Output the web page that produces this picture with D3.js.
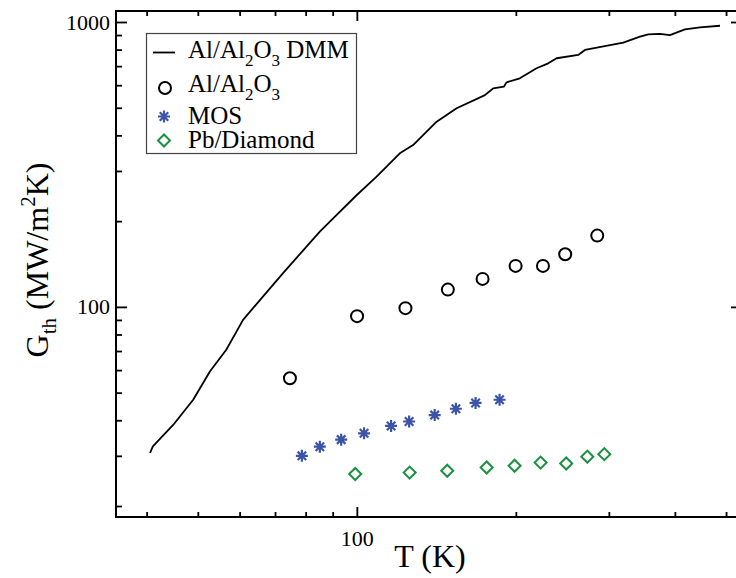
<!DOCTYPE html>
<html><head><meta charset="utf-8">
<script src="https://cdn.jsdelivr.net/npm/d3@7"></script>
<style>
body{margin:0;background:#fff;overflow:hidden;}
svg{display:block;font-family:"Liberation Serif","Times New Roman",serif;}
</style>
</head><body>
<svg id="chart" width="736" height="578"></svg>
<script>
// ---- data ----
const dmmT = [40.6, 41.1, 44.9, 49.0, 52.7, 56.6, 60.9, 66.4, 72.5, 80.3, 85.1, 89.6, 100, 109, 120.6, 127.8, 141.6, 154.5, 174.8, 181.2, 189.8, 192.1, 203.5, 218.9, 230.3, 238.9, 262.5, 270.3, 319.4, 343.6, 356.3, 374.9, 391.5, 418, 446.3, 487];
const dmmG = [30.7, 32.4, 38.5, 47.2, 59.3, 70.7, 90.0, 108.7, 131.3, 162.8, 183.8, 202, 247, 286.6, 346, 370, 446.8, 498, 554, 585, 593, 614, 634.6, 687.9, 716, 746, 766, 797.8, 846, 888, 905, 907.8, 900, 942.8, 958, 970];
const alT = [74.7, 100.1, 123.6, 148.7, 173, 199.8, 225.1, 248, 285.2];
const alG = [56.2, 92.8, 99.0, 115.0, 125.4, 139.3, 139.3, 153.1, 177.9];
const mosT = [78.7, 85.1, 93.4, 103.2, 116.1, 125.6, 140.4, 154, 167.8, 186.3];
const mosG = [30.0, 32.3, 34.2, 36.0, 38.2, 39.6, 41.7, 43.9, 46.0, 47.2];
const pbT = [99.3, 125.9, 148.3, 176.1, 198.9, 222.8, 249.1, 273.1, 294.1];
const pbG = [25.9, 26.2, 26.6, 27.3, 27.7, 28.4, 28.2, 29.8, 30.4];
const xMajor = [100];
const xMinor = [40, 50, 60, 70, 80, 90, 200, 300, 400, 500];
const yMajor = [100, 1000];
const yMinor = [20, 30, 40, 50, 60, 70, 80, 90, 200, 300, 400, 500, 600, 700, 800, 900];
const xDomain = [35, 536];
const yDomain = [18.3, 1093];
const legendLabels = ["DMM", "circle", "MOS", "Pb/Diamond"];

// ---- layout ----
const L = 116, R = 742, T = 11, B = 517;
const svg = d3.select("#chart");
const x = d3.scaleLog().domain(xDomain).range([L, R]);
const y = d3.scaleLog().domain(yDomain).range([B, T]);

const blue = "#3b54a6", green = "#19913f";

function axisStyle(g) {
  g.select(".domain").remove();
  g.selectAll(".tick line").attr("stroke", "#000").attr("stroke-width", 1.8);
  g.selectAll(".tick text").attr("fill", "#000").attr("font-family", "Liberation Serif, serif").attr("font-size", 22);
}
// bottom
svg.append("g").attr("transform", `translate(0,${B})`)
  .call(d3.axisBottom(x).tickValues(xMinor).tickSize(-5).tickFormat("")).call(axisStyle);
svg.append("g").attr("transform", `translate(0,${B})`)
  .call(d3.axisBottom(x).tickValues(xMajor).tickSize(-10).tickPadding(13).tickFormat(d3.format("d"))).call(axisStyle);
// top
svg.append("g").attr("transform", `translate(0,${T})`)
  .call(d3.axisTop(x).tickValues(xMinor).tickSize(-5).tickFormat("")).call(axisStyle);
svg.append("g").attr("transform", `translate(0,${T})`)
  .call(d3.axisTop(x).tickValues(xMajor).tickSize(-10).tickFormat("")).call(axisStyle);
// left
svg.append("g").attr("transform", `translate(${L},0)`)
  .call(d3.axisLeft(y).tickValues(yMinor).tickSize(-6).tickFormat("")).call(axisStyle);
svg.append("g").attr("transform", `translate(${L},0)`)
  .call(d3.axisLeft(y).tickValues(yMajor).tickSize(-11).tickPadding(6).tickFormat(d3.format("d"))).call(axisStyle);
// right
svg.append("g").attr("transform", `translate(${R},0)`)
  .call(d3.axisRight(y).tickValues(yMinor).tickSize(-6).tickFormat("")).call(axisStyle);
svg.append("g").attr("transform", `translate(${R},0)`)
  .call(d3.axisRight(y).tickValues(yMajor).tickSize(-11).tickFormat("")).call(axisStyle);

// frame
svg.append("rect").attr("x", L).attr("y", T).attr("width", R - L).attr("height", B - T)
  .attr("fill", "none").attr("stroke", "#000").attr("stroke-width", 2);

// DMM line
const dmm = dmmT.map((t, i) => [t, dmmG[i]]);
svg.append("path").datum(dmm)
  .attr("d", d3.line().x(d => x(d[0])).y(d => y(d[1])))
  .attr("fill", "none").attr("stroke", "#000").attr("stroke-width", 1.8).attr("stroke-linejoin", "round");

// markers
function starPath(r) {
  const a = r * Math.SQRT1_2;
  return `M${-r},0L${r},0M0,${-r}L0,${r}M${-a},${-a}L${a},${a}M${-a},${a}L${a},${-a}`;
}
const diamond = d3.symbol().type(d3.symbolSquare).size(72)();

svg.append("g").selectAll("circle").data(alT.map((t, i) => [t, alG[i]])).join("circle")
  .attr("cx", d => x(d[0])).attr("cy", d => y(d[1])).attr("r", 6)
  .attr("fill", "none").attr("stroke", "#000").attr("stroke-width", 2);

svg.append("g").selectAll("path").data(mosT.map((t, i) => [t, mosG[i]])).join("path")
  .attr("transform", d => `translate(${x(d[0])},${y(d[1])})`)
  .attr("d", starPath(6)).attr("stroke", blue).attr("stroke-width", 2.2).attr("fill", "none");

svg.append("g").selectAll("path").data(pbT.map((t, i) => [t, pbG[i]])).join("path")
  .attr("transform", d => `translate(${x(d[0])},${y(d[1])}) rotate(45)`)
  .attr("d", diamond).attr("stroke", green).attr("stroke-width", 2).attr("fill", "none");

// legend
const lg = svg.append("g");
lg.append("rect").attr("x", 146.5).attr("y", 33.5).attr("width", 210).attr("height", 120)
  .attr("fill", "#fff").attr("stroke", "#444").attr("stroke-width", 1.2);
lg.append("line").attr("x1", 153).attr("x2", 175).attr("y1", 52.5).attr("y2", 52.5)
  .attr("stroke", "#000").attr("stroke-width", 1.8);
lg.append("circle").attr("cx", 165).attr("cy", 88).attr("r", 6)
  .attr("fill", "none").attr("stroke", "#000").attr("stroke-width", 2);
lg.append("path").attr("transform", "translate(164,116.5)").attr("d", starPath(6))
  .attr("stroke", blue).attr("stroke-width", 2.2).attr("fill", "none");
lg.append("path").attr("transform", "translate(164,140.5) rotate(45)").attr("d", diamond)
  .attr("stroke", green).attr("stroke-width", 2).attr("fill", "none");

const fs = 25, sub = 17;
function alText(g, yb, extra) {
  const t = g.append("text").attr("x", 188).attr("y", yb).attr("font-size", fs).attr("fill", "#000");
  t.append("tspan").text("Al/Al");
  t.append("tspan").attr("font-size", sub).attr("dy", 8).text("2");
  t.append("tspan").attr("dy", -8).text("O");
  t.append("tspan").attr("font-size", sub).attr("dy", 8).text("3");
  if (extra) t.append("tspan").attr("dy", -8).text(" " + extra);
}
alText(lg, 58, legendLabels[0]);
alText(lg, 91.5, null);
lg.append("text").attr("x", 188).attr("y", 124).attr("font-size", fs).text(legendLabels[2]);
lg.append("text").attr("x", 188).attr("y", 148).attr("font-size", fs).text(legendLabels[3]);

// axis titles
svg.append("text").attr("x", 430).attr("y", 567).attr("text-anchor", "middle")
  .attr("font-size", 32).text("T (K)");
const yt = svg.append("text").attr("transform", "translate(48,260) rotate(-90)")
  .attr("text-anchor", "middle").attr("font-size", 32);
yt.append("tspan").text("G");
yt.append("tspan").attr("font-size", 21).attr("dy", 8).text("th");
yt.append("tspan").attr("dy", -8).text(" (MW/m");
yt.append("tspan").attr("font-size", 21).attr("dy", -13).text("2");
yt.append("tspan").attr("dy", 13).text("K)");
</script>
</body></html>
